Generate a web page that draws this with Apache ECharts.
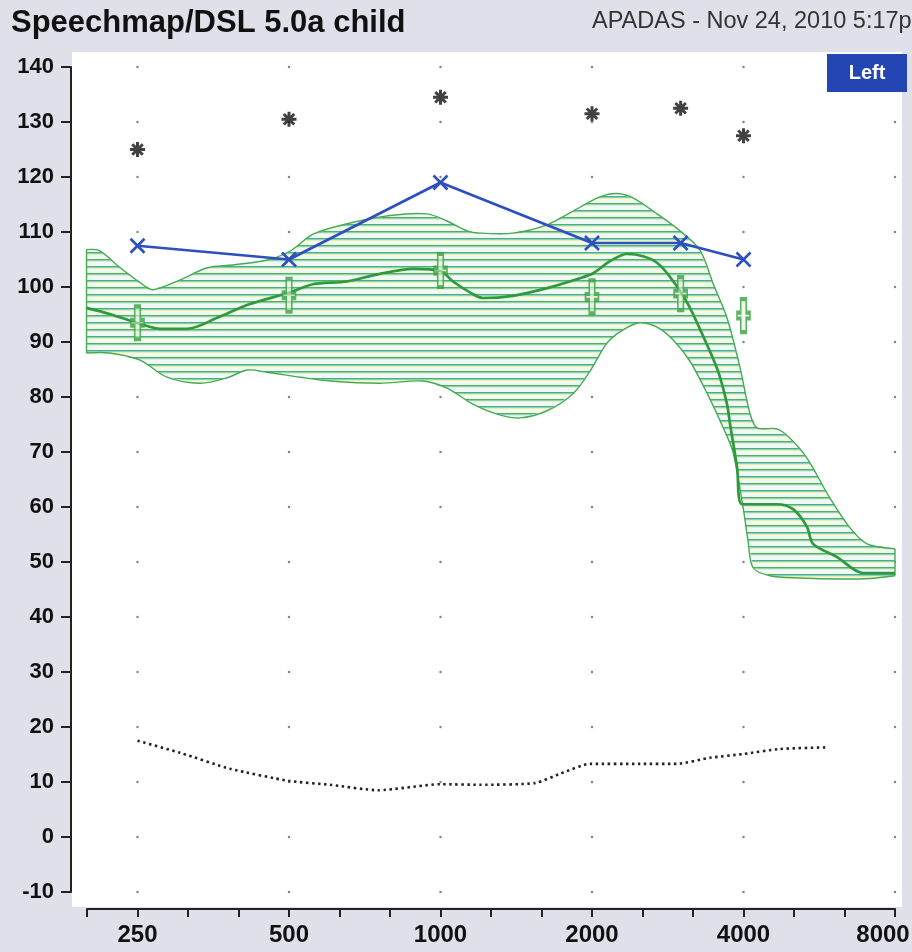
<!DOCTYPE html>
<html>
<head>
<meta charset="utf-8">
<script src="https://cdn.jsdelivr.net/npm/echarts@6/dist/echarts.min.js"></script>
<style>
html,body{margin:0;padding:0;background:#e0e0ea;}
#c{width:912px;height:952px;}
</style>
</head>
<body>
<div id="c"></div>
<script>
// ---- tick labels ----
const xTickFreqs = [250, 500, 1000, 2000, 4000, 8000];
const yTicks = [-10, 0, 10, 20, 30, 40, 50, 60, 70, 80, 90, 100, 110, 120, 130, 140];

// ---- measured points ----
const measFreqs = [250, 500, 1000, 2000, 3000, 4000];
const ucl       = [125, 130.5, 134.5, 131.5, 132.5, 127.5];
const aidedMpo  = [107.5, 105, 119, 108, 108, 105];
const targets   = [93.5, 98.5, 103, 98.2, 98.8, 94.8];

// ---- aided speech (LTASS) curve ----
const speechFreqs = [198, 220, 253, 277, 314, 360, 418, 502, 558, 652, 758, 882, 1000, 1059, 1160, 1215, 1393, 1628, 1893, 2010, 2172, 2348, 2526, 2693, 2871, 3103, 3339, 3560, 3709, 3761, 3883, 3973, 4663, 5019, 5348, 5499, 6137, 6912, 8000];
const speechLevel = [96.2, 95.1, 93.3, 92.4, 92.4, 94.4, 96.9, 99, 100.5, 101, 102.4, 103.3, 102.9, 101, 98.7, 98, 98.4, 99.8, 101.6, 102.5, 104.7, 106, 105.6, 104.4, 101.6, 96.9, 90.7, 84.7, 78.7, 75.1, 67.3, 60.5, 60.5, 59.6, 56.4, 53.3, 50.9, 48, 48];

// ---- speech range band ----
const bandUpperFreqs = [198, 210, 231, 253, 268, 304, 344, 387, 452, 502, 558, 652, 794, 940, 1030, 1129, 1198, 1393, 1628, 1893, 2074, 2242, 2413, 2693, 2992, 3278, 3479, 3709, 3938, 4120, 4255, 4663, 4948, 5348, 5942, 6512, 7037, 8000];
const bandUpper      = [106.8, 106.6, 103.5, 100.8, 99.5, 101.3, 103.5, 104, 104.9, 106.5, 109.6, 111.5, 113, 113.3, 112, 110.2, 109.8, 109.8, 111.3, 114.5, 116.4, 117, 116.2, 113.3, 110.2, 106.7, 100.7, 94.4, 85.3, 77, 74.4, 74.2, 72.5, 68.9, 61.6, 56.2, 53.3, 52.4];
const bandLowerFreqs = [198, 220, 253, 286, 333, 377, 413, 452, 526, 603, 758, 923, 1030, 1160, 1295, 1439, 1628, 1834, 1982, 2142, 2305, 2491, 2693, 2897, 3131, 3385, 3642, 3813, 3991, 4082, 4177, 4515, 5180, 6221, 7135, 8000];
const bandLower      = [88, 88, 86.7, 83.6, 82.5, 83.5, 84.9, 84.5, 83.6, 82.9, 82.5, 82.9, 81.6, 78.7, 76.9, 76.2, 77.5, 80.6, 84.7, 89.8, 92.2, 93.5, 92.7, 90.4, 86.5, 80.7, 74.5, 70, 60, 54, 49, 47.5, 47.1, 46.9, 47, 47.5];

// ---- threshold (dotted) ----
const threshFreqs = [250, 304, 382, 500, 603, 751, 1000, 1198, 1541, 1728, 1982, 2491, 2950, 3432, 4000, 4727, 5834];
const thresh      = [17.5, 15.3, 12.4, 10.2, 9.5, 8.5, 9.6, 9.5, 9.8, 11.5, 13.3, 13.3, 13.3, 14.4, 15.1, 16, 16.3];

// position on axis in third-octave steps from 250 Hz
const toX = f => 3 * Math.log2(f / 250);
const pairs = (fs, vs) => fs.map((f, i) => [toX(f), vs[i]]);

// hatch pattern
const pc = document.createElement('canvas');
pc.width = 8; pc.height = 7;
const g = pc.getContext('2d');
g.fillStyle = '#f0f9f6'; g.fillRect(0, 0, 8, 7);
g.fillStyle = '#4fb25f'; g.fillRect(0, 0, 8, 1);
g.fillStyle = '#86cde2'; g.fillRect(0, 1, 8, 1);
g.fillStyle = '#ecf1a0'; g.fillRect(0, 2, 8, 1);

const FONT = "'Liberation Sans', Arial, sans-serif";
const LBL = {fontSize: 24, fontWeight: 'bold', fontFamily: FONT, color: '#111'};

const dots = [];
xTickFreqs.forEach(f => yTicks.forEach(v => dots.push([toX(f), v])));

const chart = echarts.init(document.getElementById('c'), null, {renderer: 'canvas'});
chart.setOption({
  animation: false,
  backgroundColor: '#e0e0ea',
  title: {
    text: 'Speechmap/DSL 5.0a child',
    left: 6, top: 3,
    textStyle: {fontSize: 31, fontWeight: 'bold', fontFamily: FONT, color: '#111'}
  },
  grid: {left: 87, right: 17, top: 67, bottom: 60, containLabel: false, outerBoundsMode: 'none'},
  xAxis: {
    type: 'value', min: -1, max: 15, interval: 1, offset: 17,
    axisLine: {show: true, onZero: false, lineStyle: {color: '#222', width: 2}},
    axisTick: {show: true, length: 8, lineStyle: {color: '#222', width: 2}},
    axisLabel: Object.assign({
      margin: 14, showMinLabel: true, showMaxLabel: true, hideOverlap: false,
      rich: {last: Object.assign({padding: [0, 24, 0, 0]}, LBL)},
      formatter: v => {
        const i = Math.round(v) / 3;
        if (!(Number.isInteger(i) && i >= 0)) return '';
        return i === xTickFreqs.length - 1 ? '{last|' + xTickFreqs[i] + '}' : String(xTickFreqs[i]);
      }
    }, LBL),
    splitLine: {show: false}
  },
  yAxis: {
    type: 'value', min: -10, max: 140, interval: 10, offset: 16,
    axisLine: {show: true, onZero: false, lineStyle: {color: '#222', width: 2}},
    axisTick: {show: true, length: 10, lineStyle: {color: '#222', width: 2}},
    axisLabel: {margin: 17, fontSize: 22, fontWeight: 'bold', fontFamily: FONT, color: '#111'},
    splitLine: {show: false}
  },
  graphic: [
    {type: 'rect', z: -100, silent: true, shape: {x: 72, y: 52, width: 830, height: 855}, style: {fill: '#ffffff'}},
    {type: 'text', z: 10, silent: true, style: {x: 592, y: 22, text: 'APADAS - Nov 24, 2010 5:17p', font: "23.5px 'Liberation Sans', Arial, sans-serif", fill: '#333', verticalAlign: 'middle'}},
    {type: 'rect', z: 10, silent: true, shape: {x: 827, y: 54, width: 80, height: 38}, style: {fill: '#2446b4'}},
    {type: 'text', z: 11, silent: true, style: {x: 867, y: 73, text: 'Left', font: "bold 20px 'Liberation Sans', Arial, sans-serif", fill: '#fff', align: 'center', verticalAlign: 'middle'}}
  ],
  series: [
    {
      type: 'scatter', name: 'grid', silent: true, z: 1,
      symbolSize: 2.5, itemStyle: {color: '#666'}, data: dots
    },
    {
      type: 'custom', name: 'band', silent: true, z: 2,
      data: [[0, 100]],
      renderItem: (params, api) => {
        const up = bandUpperFreqs.map((f, i) => api.coord([toX(f), bandUpper[i]]));
        const lo = bandLowerFreqs.map((f, i) => api.coord([toX(f), bandLower[i]]));
        const loRev = lo.slice().reverse();
        const st = {stroke: '#45aa55', lineWidth: 1.4, fill: null};
        return {
          type: 'group',
          children: [
            {type: 'polygon', shape: {points: up.concat(loRev)}, style: {fill: {image: pc, repeat: 'repeat'}, stroke: null}},
            {type: 'polyline', shape: {points: up, smooth: 0.3}, style: st},
            {type: 'polyline', shape: {points: lo, smooth: 0.3}, style: st},
            {type: 'line', shape: {x1: up[0][0], y1: up[0][1], x2: lo[0][0], y2: lo[0][1]}, style: st},
            {type: 'line', shape: {x1: up[up.length - 1][0], y1: up[up.length - 1][1], x2: lo[lo.length - 1][0], y2: lo[lo.length - 1][1]}, style: st}
          ]
        };
      }
    },
    {
      type: 'line', name: 'threshold', silent: true, z: 3,
      data: pairs(threshFreqs, thresh), showSymbol: false, smooth: 0.2,
      lineStyle: {color: '#222', width: 2.6, type: [2.5, 3.5]}
    },
    {
      type: 'line', name: 'speech', silent: true, z: 4,
      data: pairs(speechFreqs, speechLevel), showSymbol: false, smooth: 0.3,
      lineStyle: {color: '#2e9a3c', width: 2.7}
    },
    {
      type: 'scatter', name: 'targets', silent: true, z: 5,
      data: pairs(measFreqs, targets),
      symbol: 'path://M4,0L10,0L10,14L14,14L14,20L10,20L10,34L4,34L4,20L0,20L0,14L4,14Z',
      symbolSize: [13, 33],
      itemStyle: {color: 'rgba(225,245,215,0.7)', borderColor: '#38a044', borderWidth: 2.6}
    },
    {
      type: 'line', name: 'aided MPO', silent: true, z: 6,
      data: pairs(measFreqs, aidedMpo),
      symbol: 'path://M-1,-1L1,1M-1,1L1,-1', symbolSize: 14, showSymbol: true,
      lineStyle: {color: '#2d4fc0', width: 2.7},
      itemStyle: {color: '#2d4fc0', borderColor: '#2d4fc0', borderWidth: 2.6}
    },
    {
      type: 'scatter', name: 'UCL', silent: true, z: 7,
      data: pairs(measFreqs, ucl),
      symbol: 'path://M0,-10L0,10M-10,0L10,0M-7,-7L7,7M-7,7L7,-7', symbolSize: 15,
      itemStyle: {color: '#111', borderColor: '#111', borderWidth: 3}
    }
  ]
});
</script>
</body>
</html>
